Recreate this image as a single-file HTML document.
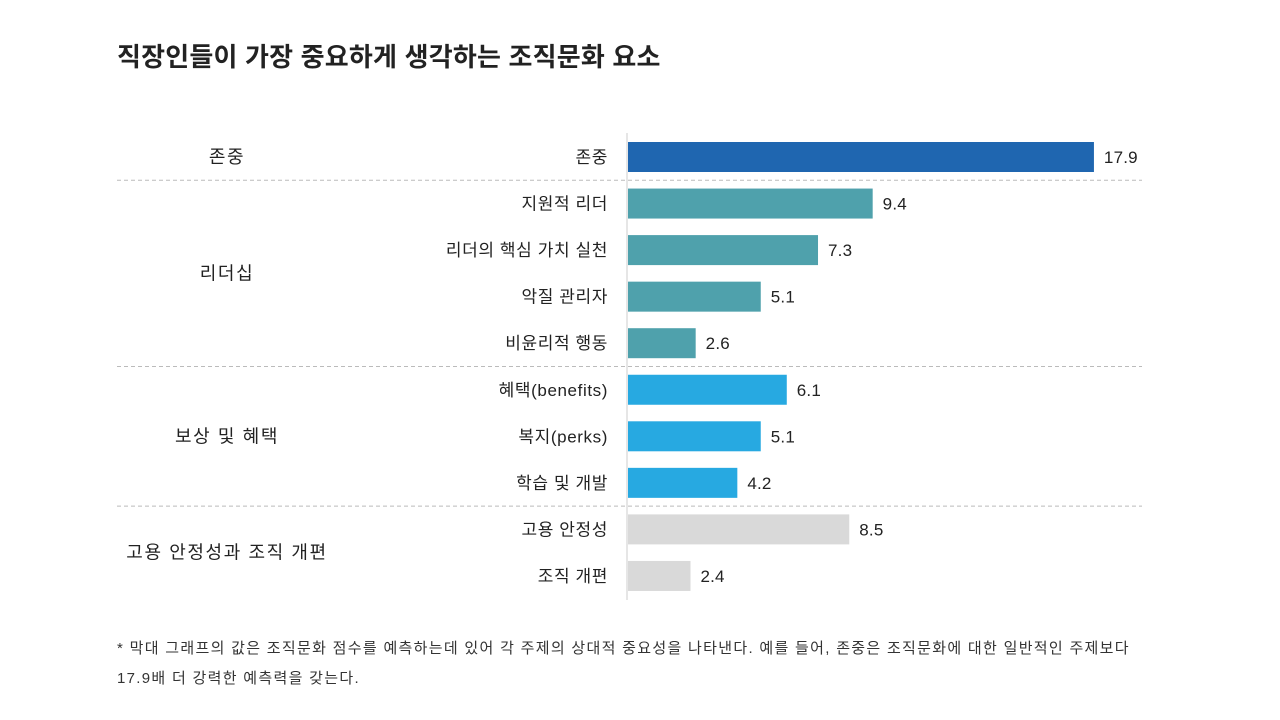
<!DOCTYPE html>
<html lang="ko"><head><meta charset="utf-8">
<style>
body{margin:0;width:1280px;height:720px;background:#fff;font-family:"Liberation Sans","Noto Sans CJK KR",sans-serif;color:#222;overflow:hidden;position:relative}
#title{position:absolute;left:117px;top:37px;font-size:26px;font-weight:bold;color:#222;letter-spacing:0.2px}
#note{position:absolute;left:117px;top:634px;font-size:15px;line-height:30px;color:#333;letter-spacing:1.3px;white-space:nowrap}
svg{position:absolute;left:0;top:0}
</style></head><body>
<div id="title">직장인들이 가장 중요하게 생각하는 조직문화 요소</div>
<svg id="chart" width="1280" height="720"></svg>
<div id="note">* 막대 그래프의 값은 조직문화 점수를 예측하는데 있어 각 주제의 상대적 중요성을 나타낸다. 예를 들어, 존중은 조직문화에 대한 일반적인 주제보다<br>17.9배 더 강력한 예측력을 갖는다.</div>
<script>
const categories=["존중","지원적 리더","리더의 핵심 가치 실천","악질 관리자","비윤리적 행동","혜택(benefits)","복지(perks)","학습 및 개발","고용 안정성","조직 개편"];
const values=[17.9,9.4,7.3,5.1,2.6,6.1,5.1,4.2,8.5,2.4];
const groupIndex=[0,1,1,1,1,2,2,2,3,3];
const groupNames=["존중","리더십","보상 및 혜택","고용 안정성과 조직 개편"];
const groupColors=["#1f66b0","#4fa1ac","#27a9e1","#d9d9d9"];
const svg=document.getElementById('chart');const NS="http://www.w3.org/2000/svg";
const x0=628,pxPer=26.03,y0=157,step=46.55,bh=30;
const x=v=>x0+v*pxPer, y=i=>y0+i*step;
function mk(t,a){const e=document.createElementNS(NS,t);for(const k in a)e.setAttribute(k,a[k]);svg.appendChild(e);return e;}
const ax=mk('line',{x1:627,x2:627,y1:133,y2:600,stroke:'#ccc','stroke-width':1});


categories.forEach((c,i)=>{
 const r=mk('rect',{x:x0,y:y(i)-bh/2,width:x(values[i])-x0,height:bh,fill:groupColors[groupIndex[i]]});
 
 
 const t=mk('text',{x:608,y:y(i)+6,'text-anchor':'end','font-size':17,'letter-spacing':0.6,fill:'#222'});t.textContent=c;
 
 
 const v=mk('text',{x:x(values[i])+10,y:y(i)+6,'font-size':17,'letter-spacing':0.2,fill:'#222'});v.textContent=values[i].toFixed(1);
 
 
 if(i>0&&groupIndex[i]!==groupIndex[i-1]){
  const l=mk('line',{x1:117,x2:1142,y1:(y(i)+y(i-1))/2,y2:(y(i)+y(i-1))/2,stroke:'#bbb','stroke-dasharray':'4,3'});
  
  
 }
});
groupNames.forEach((g,gi)=>{
 const idx=groupIndex.map((v,i)=>v===gi?i:-1).filter(i=>i>=0);
 const cy=(y(idx[0])+y(idx[idx.length-1]))/2;
 const t=mk('text',{x:227,y:cy+6,'text-anchor':'middle','font-size':18,'letter-spacing':1.6,fill:'#222'});t.textContent=g;
 
 
});
</script>
</body></html>
